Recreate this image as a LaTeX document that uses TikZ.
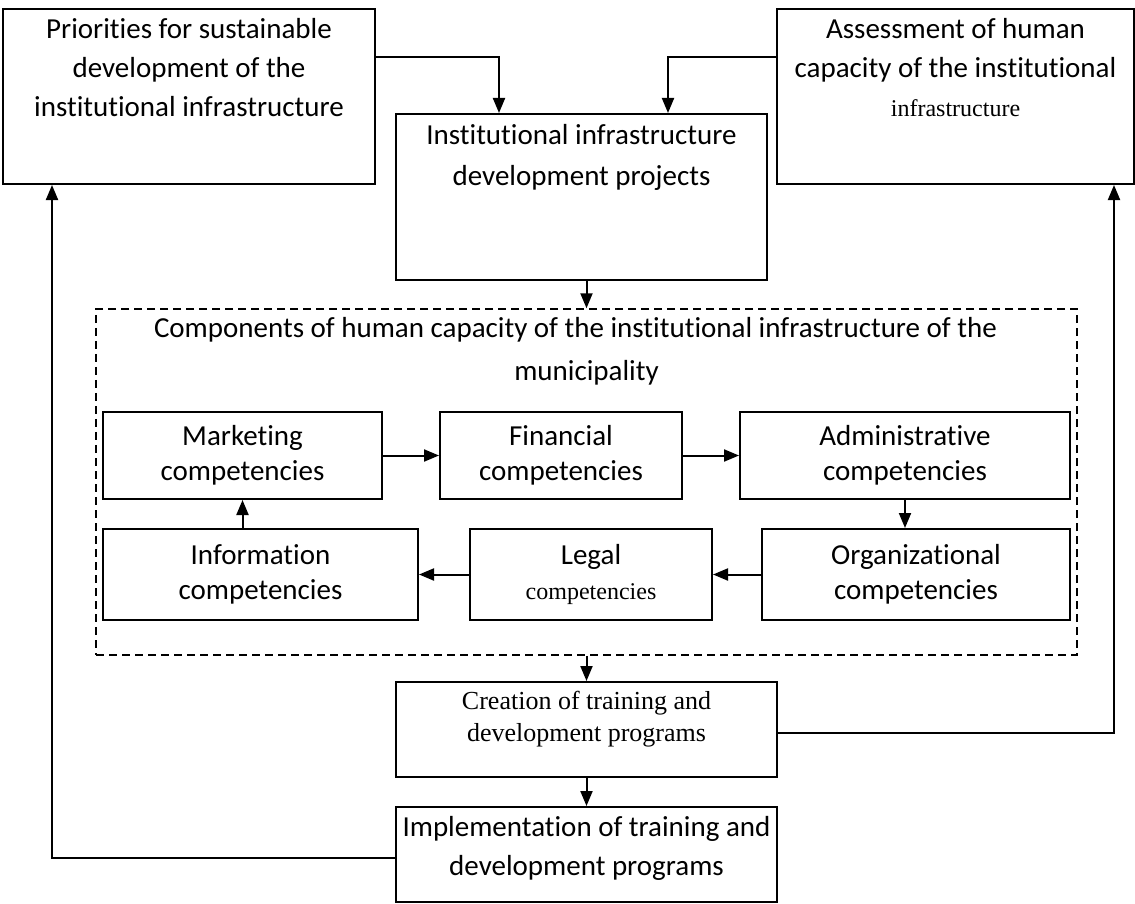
\documentclass[tikz,border=0pt]{standalone}
\usepackage{fontspec}
\setmainfont{Carlito}[Ligatures=NoCommon]
\newfontfamily\tnr{Liberation Serif}
\usetikzlibrary{arrows.meta,positioning}

\begin{document}
\begin{tikzpicture}[x=0.5pt,y=-0.5pt,>={Triangle[length=7.5pt,width=6pt]},
  box/.style={draw, line width=1pt, inner sep=0pt},
  dashbox/.style={draw, dash pattern=on 4pt off 2.5pt, line width=0.75pt, inner sep=0pt},
  txt/.style={inner sep=0pt, align=center, font=\fontsize{14.5}{19.5}\selectfont},
  compbox/.style={box, align=center, font=\fontsize{14.5}{17.5}\selectfont},
  link/.style={->, line width=1pt}]
\useasboundingbox (0,0) rectangle (1135,904);

% upper blocks
\node[box, minimum width=186pt, minimum height=87.5pt] (prio) at (189,96.5) {};
\node[txt, below=5pt of prio.north] (prioT) {Priorities for sustainable\\development of the\\institutional infrastructure};

\node[box, minimum width=178.5pt, minimum height=87.5pt] (assess) at (955.5,96.5) {};
\node[txt, below=5pt of assess.north] (assessT) {Assessment of human\\capacity of the institutional\\{\tnr\fontsize{12}{19.5}\selectfont infrastructure}};

\node[box, minimum width=185.5pt, minimum height=83pt] (proj) at (581.5,197) {};
\node[txt, font=\fontsize{14.5}{20.5}\selectfont, below=5.5pt of proj.north] (projT) {Institutional infrastructure\\development projects};

% components of human capacity
\node[dashbox, minimum width=490.5pt, minimum height=173pt] (comp) at (586.5,482) {};
\node[txt, font=\fontsize{14.5}{21.5}\selectfont, below=4.5pt of comp.north] (compT) {Components of human capacity of the institutional infrastructure of the\hspace*{11pt}\\municipality};

\node[compbox, minimum width=139.5pt, minimum height=43.5pt] (mkt) at (242.5,455.5) {Marketing\\competencies};
\node[compbox, minimum width=121pt, minimum height=43.5pt] (fin) at (561,455.5) {Financial\\competencies};
\node[compbox, minimum width=165pt, minimum height=43.5pt] (adm) at (905,455.5) {Administrative\\competencies};
\node[compbox, minimum width=157.5pt, minimum height=45.5pt] (info) at (260.5,574.5) {Information\\competencies};
\node[compbox, minimum width=121pt, minimum height=45.5pt] (legal) at (591,574.5) {Legal\\{\tnr\fontsize{12}{17.5}\selectfont competencies}};
\node[compbox, minimum width=154pt, minimum height=45.5pt] (org) at (916,574.5) {Organizational\\competencies};

% programs
\node[box, minimum width=190.5pt, minimum height=47.5pt] (create) at (586.5,729.5) {};
\node[txt, font=\tnr\fontsize{13}{16}\selectfont, below=5pt of create.north] (createT) {Creation of training and\\development programs};

\node[box, minimum width=190.5pt, minimum height=47.5pt] (impl) at (586.5,854.5) {};
\node[txt, font=\fontsize{14.5}{19.5}\selectfont, below=5pt of impl.north] (implT) {Implementation of training and\\development programs};

% connectors
\coordinate (feedL) at (499,57);
\coordinate (feedR) at (668,57);
\coordinate (backR) at (1114,733);
\coordinate (backL) at (52,858);

\draw[link] (prio.east |- feedL) -- (feedL) -- (proj.north -| feedL);
\draw[link] (assess.west |- feedR) -- (feedR) -- (proj.north -| feedR);
\draw[link] (proj.south -| comp.north) -- (comp.north);

\draw[link] (mkt) -- (fin);
\draw[link] (fin) -- (adm);
\draw[link] (adm.south) -- (adm.south |- org.north);
\draw[link] (org) -- (legal);
\draw[link] (legal) -- (info);
\draw[link] (mkt.south |- info.north) -- (mkt.south);

\draw[link] (comp.south) -- (create.north);
\draw[link] (create) -- (impl);
\draw[link] (create.east |- backR) -- (backR) -- (assess.south -| backR);
\draw[link] (impl.west |- backL) -- (backL) -- (prio.south -| backL);
\end{tikzpicture}
\end{document}
